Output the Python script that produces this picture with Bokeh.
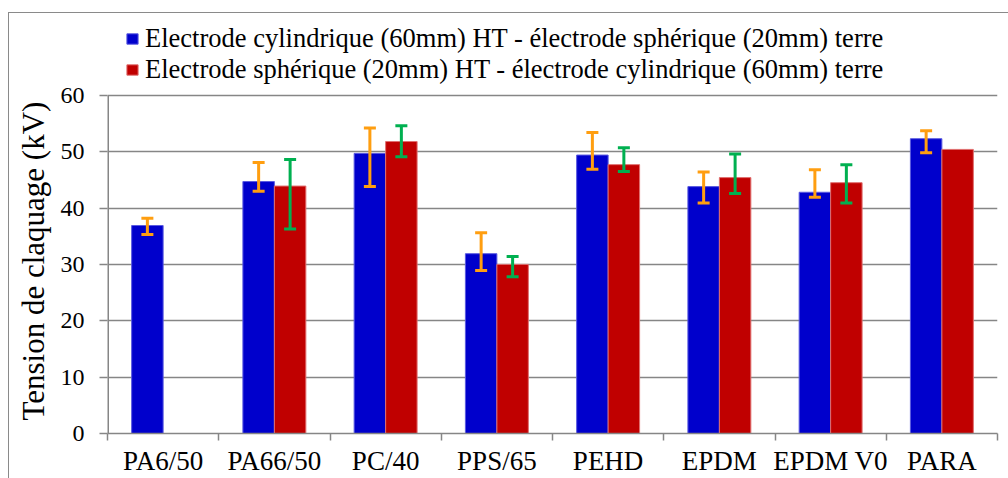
import math
from bokeh.plotting import figure
from bokeh.models import (ColumnDataSource, Range1d, FixedTicker, Whisker, TeeHead,
                          Legend, LegendItem, InlineStyleSheet, Title)
from bokeh.embed import file_html
from bokeh.resources import INLINE

nan = float("nan")

categories = ["PA6/50", "PA66/50", "PC/40", "PPS/65", "PEHD", "EPDM", "EPDM V0", "PARA"]
blue_values = [36.9, 44.7, 49.7, 31.9, 49.4, 43.8, 42.8, 52.3]
blue_low = [35.3, 43.0, 43.8, 28.9, 46.9, 40.9, 41.9, 49.8]
blue_high = [38.2, 48.1, 54.2, 35.6, 53.4, 46.4, 46.8, 53.7]
red_values = [nan, 43.9, 51.8, 30.0, 47.7, 45.4, 44.5, 50.4]
red_low = [nan, 36.3, 49.1, 27.8, 46.5, 42.6, 40.9, nan]
red_high = [nan, 48.6, 54.6, 31.4, 50.7, 49.6, 47.7, nan]
y_ticks = [0, 10, 20, 30, 40, 50, 60]
y_title = "Tension de claquage (kV)"

series1 = "Electrode cylindrique (60mm) HT - électrode sphérique (20mm) terre"
series2 = "Electrode sphérique (20mm) HT - électrode cylindrique (60mm) terre"

BLUE = "#0000CC"
RED = "#C00000"
ORANGE = "#FF9E10"
GREEN = "#00B050"
GRID = "#868686"
FONT = "Liberation Serif"

# layout (pixels): plot frame runs from TOP to BOTTOM; the 60 gridline sits at Y60
W, H = 1008, 478
LEFT, RIGHT, TOP, BOTTOM = 107, 11, 16, 44
Y60 = 95
frame_h = H - TOP - BOTTOM
y_top = y_ticks[-1] * frame_h / (H - BOTTOM - Y60)

bw = 0.283
n = len(categories)
centers = [i + 0.5 for i in range(n)]

src_b = ColumnDataSource(dict(x=[c - bw / 2 for c in centers], top=blue_values,
                              lo=blue_low, hi=blue_high))
keep = [i for i in range(n) if not math.isnan(red_values[i])]
src_r = ColumnDataSource(dict(x=[centers[i] + bw / 2 for i in keep],
                              top=[red_values[i] for i in keep]))
keep_e = [i for i in range(n) if not math.isnan(red_low[i])]
src_re = ColumnDataSource(dict(x=[centers[i] + bw / 2 for i in keep_e],
                               lo=[red_low[i] for i in keep_e],
                               hi=[red_high[i] for i in keep_e]))

p = figure(width=W, height=H, output_backend="svg", toolbar_location=None,
           x_range=Range1d(0, n), y_range=Range1d(0, y_top),
           min_border_left=LEFT, min_border_right=RIGHT, min_border_top=TOP,
           min_border_bottom=BOTTOM)
p.outline_line_color = None
p.background_fill_color = "white"
p.border_fill_color = "white"

# y axis line only over the tick span
p.segment(x0=[0], y0=[y_ticks[0]], x1=[0], y1=[y_ticks[-1]], line_color=GRID, line_width=3)

rb = p.vbar(x="x", top="top", width=bw, source=src_b, fill_color=BLUE,
            line_color="#5a5ae0", line_width=1)
rr = p.vbar(x="x", top="top", width=bw, source=src_r, fill_color=RED,
            line_color="#e07070", line_width=1)

wb = Whisker(source=src_b, base="x", lower="lo", upper="hi", level="overlay",
             line_color=ORANGE, line_width=3,
             upper_head=TeeHead(size=12, line_color=ORANGE, line_width=3),
             lower_head=TeeHead(size=12, line_color=ORANGE, line_width=3))
wr = Whisker(source=src_re, base="x", lower="lo", upper="hi", level="overlay",
             line_color=GREEN, line_width=3,
             upper_head=TeeHead(size=12, line_color=GREEN, line_width=3),
             lower_head=TeeHead(size=12, line_color=GREEN, line_width=3))
p.add_layout(wb)
p.add_layout(wr)

# axes
p.xgrid.visible = False
p.ygrid.grid_line_color = GRID
p.ygrid.grid_line_width = 1.5

xa = p.xaxis[0]
xa.ticker = FixedTicker(ticks=centers, minor_ticks=list(range(n + 1)))
xa.major_label_overrides = {c: lab for c, lab in zip(centers, categories)}
xa.major_tick_out = 0
xa.major_tick_in = 0
xa.minor_tick_out = 7
xa.minor_tick_in = 0
xa.minor_tick_line_color = GRID
xa.minor_tick_line_width = 1.5
xa.axis_line_color = GRID
xa.axis_line_width = 1.5
xa.major_label_text_font = FONT
xa.major_label_text_font_size = "27px"
xa.major_label_text_color = "black"
xa.major_label_standoff = 5

ya = p.yaxis[0]
ya.ticker = FixedTicker(ticks=y_ticks)
ya.minor_tick_out = 0
ya.minor_tick_in = 0
ya.major_tick_out = 8
ya.major_tick_in = 0
ya.major_tick_line_color = GRID
ya.major_tick_line_width = 1.5
ya.axis_line_color = None
ya.major_label_text_font = FONT
ya.major_label_text_font_size = "24px"
ya.major_label_text_color = "black"
ya.major_label_standoff = 15

# y axis title, starting just above the frame bottom and reading upward
t = Title(text=y_title, align="left", text_font=FONT, text_font_size="31px",
          text_font_style="normal", text_color="black",
          offset=13, standoff=14)
p.add_layout(t, "left")

legend = Legend(items=[LegendItem(label=series1, renderers=[rb]),
                       LegendItem(label=series2, renderers=[rr])],
                location=(18, 348), orientation="vertical",
                label_text_font=FONT, label_text_font_size="26.5px",
                label_text_color="black",
                glyph_width=14, glyph_height=13, label_standoff=6,
                label_height=20, spacing=0, padding=0, margin=0,
                border_line_color=None, background_fill_alpha=0)
p.add_layout(legend, "center")

p.stylesheets = [InlineStyleSheet(css=(
    ":host { position: relative; }"
    ":host::after { content: ''; position: absolute; left: 8px; top: 12px;"
    " right: -20px; bottom: -20px; border-left: 1px solid #8a8a8a;"
    " border-top: 1px solid #8a8a8a; pointer-events: none; }"))]

open("out.html", "w").write(file_html(p, INLINE))
